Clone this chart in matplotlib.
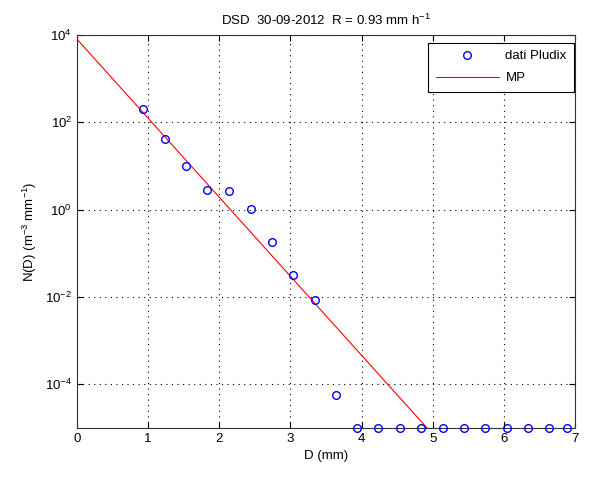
import numpy as np
import matplotlib
matplotlib.use("Agg")
import matplotlib.pyplot as plt

plt.rcParams['font.family'] = ['Liberation Sans', 'DejaVu Sans']
plt.rcParams['mathtext.fontset'] = 'custom'
plt.rcParams['mathtext.rm'] = 'Liberation Sans'

# Pludix drop size classes (mm) and measured concentrations (m^-3 mm^-1)
diam = [0.93, 1.23, 1.53, 1.83, 2.13, 2.44, 2.74, 3.04, 3.34, 3.64,
        3.94, 4.23, 4.54, 4.84, 5.15, 5.44, 5.74, 6.05, 6.34, 6.64, 6.89]
conc = [202, 40.8, 10.2, 2.87, 2.68, 1.05, 0.179, 0.0319, 0.0084, 5.7e-5,
        1e-5, 1e-5, 1e-5, 1e-5, 1e-5, 1e-5, 1e-5, 1e-5, 1e-5, 1e-5, 1e-5]

# Marshall-Palmer line end points
mp_diam = [0.0, 4.92]
mp_conc = [8000.0, 1e-5]

yticks = [1e-4, 1e-2, 1e0, 1e2, 1e4]

fig = plt.figure(figsize=(5.94, 4.8), dpi=100)
ax = fig.add_axes([77 / 594, 1 - 428 / 480, (575 - 77) / 594, (428 - 35) / 480])

ax.plot(diam, conc, 'o', mfc='none', mec='blue', ms=5.5, mew=1.0,
        label='dati Pludix', clip_on=False, zorder=3)
ax.plot(mp_diam, mp_conc, '-', color='red', lw=0.8, label='MP')

ax.set_yscale('log')
ax.set_xlim(0, 7)
ax.set_ylim(1e-5, 1e4)
ax.set_yticks(yticks)
ax.yaxis.set_minor_locator(matplotlib.ticker.NullLocator())
ax.set_xticks(range(0, 8))

ax.grid(True, which='major', color='black', linestyle=(0, (1, 4)), lw=0.8)
ax.tick_params(direction='in', top=True, right=True, length=4, labelsize=9.5,
               width=0.8)
for s in ax.spines.values():
    s.set_linewidth(0.8)
    s.set_color('#333333')

ax.set_title('DSD  30-09-2012  R = 0.93 mm h$^{-1}$', fontsize=9.5, pad=7)
ax.set_xlabel('D (mm)', fontsize=9.5)
ax.set_ylabel('N(D) (m$^{-3}$ mm$^{-1}$)', fontsize=9.5)

leg = ax.legend(loc='upper right', bbox_to_anchor=(0.998, 0.98),
                borderaxespad=0, fontsize=9.5, fancybox=False,
                edgecolor='black', handlelength=4.8, labelspacing=0.75,
                borderpad=0.55, handletextpad=0.5, framealpha=1)
leg.get_frame().set_linewidth(0.8)

fig.savefig('out.png', dpi=100)
